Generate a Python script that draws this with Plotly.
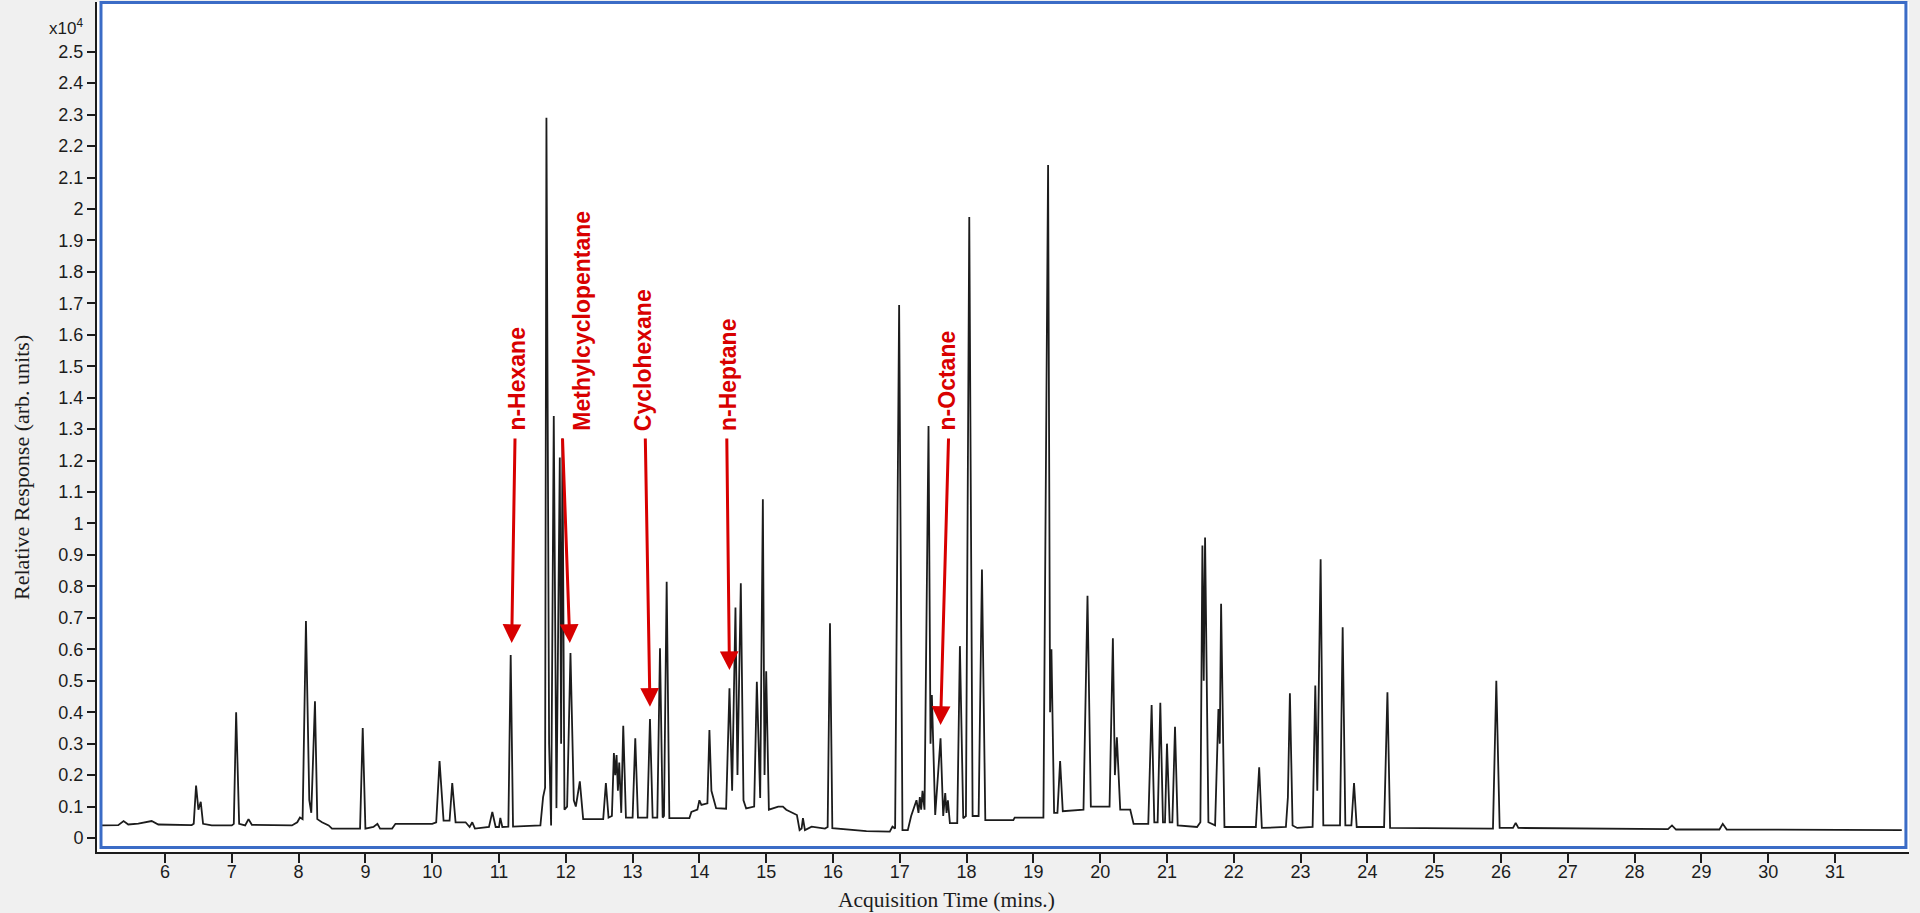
import plotly.graph_objects as go

# ---- chromatogram vertices (time in min, response in 1e4 units)
time_min = [
    5.05, 5.30, 5.38, 5.45, 5.60, 5.80, 5.90, 6.40, 6.43, 6.465, 6.50, 6.535, 6.57, 6.70,
    7.00, 7.03, 7.065, 7.085, 7.11, 7.20, 7.25, 7.30, 7.90, 7.98, 8.02, 8.06, 8.11, 8.16,
    8.19, 8.245, 8.28, 8.35, 8.45, 8.50, 8.92, 8.96, 9.00, 9.12, 9.18, 9.22, 9.40, 9.45,
    10.00, 10.06, 10.11, 10.17, 10.26, 10.30, 10.35, 10.50, 10.56, 10.60, 10.64, 10.85,
    10.90, 10.95, 11.00, 11.02, 11.05, 11.14, 11.175, 11.21, 11.62, 11.66, 11.69, 11.71,
    11.75, 11.78, 11.82, 11.86, 11.91, 11.93, 11.95, 11.98, 12.02, 12.07, 12.12, 12.15,
    12.21, 12.26, 12.56, 12.60, 12.64, 12.69, 12.72, 12.74, 12.76, 12.78, 12.80, 12.83,
    12.86, 12.90, 13.00, 13.04, 13.08, 13.22, 13.26, 13.30, 13.37, 13.41, 13.45, 13.47,
    13.51, 13.55, 13.85, 13.88, 13.97, 14.00, 14.03, 14.12, 14.15, 14.18, 14.25, 14.40,
    14.45, 14.49, 14.54, 14.57, 14.62, 14.66, 14.70, 14.82, 14.86, 14.91, 14.95, 14.975,
    15.00, 15.04, 15.18, 15.25, 15.30, 15.46, 15.50, 15.53, 15.55, 15.58, 15.62, 15.68,
    15.88, 15.92, 15.955, 15.99, 16.50, 16.85, 16.89, 16.93, 16.99, 17.04, 17.12, 17.17,
    17.25, 17.28, 17.30, 17.32, 17.34, 17.37, 17.43, 17.46, 17.48, 17.53, 17.61, 17.65,
    17.68, 17.70, 17.72, 17.75, 17.86, 17.90, 17.95, 17.99, 18.04, 18.09, 18.18, 18.23,
    18.28, 18.70, 18.72, 19.15, 19.22, 19.25, 19.27, 19.31, 19.36, 19.40, 19.44, 19.75,
    19.81, 19.86, 20.14, 20.19, 20.22, 20.25, 20.30, 20.45, 20.50, 20.72, 20.77, 20.81,
    20.86, 20.90, 20.94, 20.97, 21.00, 21.04, 21.08, 21.12, 21.16, 21.45, 21.50, 21.53,
    21.55, 21.57, 21.62, 21.72, 21.77, 21.79, 21.81, 21.86, 22.33, 22.38, 22.42, 22.78,
    22.81, 22.84, 22.88, 22.95, 23.18, 23.22, 23.25, 23.30, 23.34, 23.59, 23.63, 23.67,
    23.76, 23.80, 23.84, 24.25, 24.30, 24.34, 25.88, 25.93, 25.98, 26.18, 26.22, 26.26,
    28.50, 28.56, 28.62, 29.27, 29.32, 29.38, 32.00,
]
response = [
    0.040, 0.041, 0.054, 0.043, 0.046, 0.054, 0.043, 0.041, 0.045, 0.167, 0.090, 0.115, 0.045, 0.040,
    0.040, 0.045, 0.400, 0.215, 0.045, 0.040, 0.060, 0.042, 0.040, 0.050, 0.065, 0.060, 0.690, 0.120,
    0.080, 0.435, 0.060, 0.050, 0.040, 0.030, 0.030, 0.350, 0.030, 0.035, 0.045, 0.030, 0.030, 0.045,
    0.045, 0.050, 0.245, 0.055, 0.055, 0.175, 0.050, 0.050, 0.035, 0.050, 0.030, 0.035,
    0.083, 0.035, 0.035, 0.064, 0.035, 0.036, 0.582, 0.036, 0.040, 0.130, 0.160, 2.290,
    0.300, 0.040, 1.342, 0.095, 1.210, 0.300, 1.270, 0.090, 0.100, 0.588, 0.120, 0.100,
    0.180, 0.060, 0.060, 0.175, 0.065, 0.070, 0.270, 0.200, 0.264, 0.150, 0.240, 0.080,
    0.357, 0.065, 0.065, 0.317, 0.065, 0.065, 0.378, 0.065, 0.065, 0.603, 0.065, 0.070,
    0.815, 0.063, 0.063, 0.083, 0.090, 0.120, 0.105, 0.110, 0.343, 0.150, 0.095, 0.093,
    0.476, 0.150, 0.733, 0.200, 0.810, 0.120, 0.094, 0.100, 0.497, 0.127, 1.077, 0.200,
    0.530, 0.090, 0.100, 0.100, 0.090, 0.073, 0.025, 0.030, 0.063, 0.025, 0.030, 0.036,
    0.030, 0.035, 0.683, 0.031, 0.022, 0.020, 0.036, 0.030, 1.695, 0.025, 0.025, 0.070,
    0.120, 0.080, 0.130, 0.090, 0.150, 0.090, 1.310, 0.300, 0.455, 0.073, 0.317, 0.070,
    0.143, 0.080, 0.120, 0.047, 0.047, 0.610, 0.063, 0.070, 1.974, 0.070, 0.070, 0.854,
    0.057, 0.057, 0.065, 0.065, 2.140, 0.400, 0.600, 0.080, 0.080, 0.245, 0.085, 0.090,
    0.770, 0.100, 0.100, 0.635, 0.200, 0.320, 0.090, 0.090, 0.045, 0.045, 0.423, 0.050,
    0.050, 0.430, 0.050, 0.050, 0.300, 0.050, 0.050, 0.354, 0.040, 0.035, 0.050, 0.930,
    0.500, 0.955, 0.050, 0.040, 0.410, 0.300, 0.745, 0.035, 0.035, 0.225, 0.032, 0.035,
    0.130, 0.460, 0.040, 0.032, 0.035, 0.485, 0.150, 0.886, 0.040, 0.040, 0.670, 0.040,
    0.040, 0.175, 0.035, 0.035, 0.463, 0.032, 0.030, 0.500, 0.032, 0.032, 0.048, 0.032,
    0.028, 0.040, 0.027, 0.027, 0.045, 0.027, 0.025,
]

# ---- labelled compounds: name, label centre time, arrow tail time, arrow head time, head response
compound_names = ["n-Hexane", "Methylcyclopentane", "Cyclohexane", "n-Heptane", "n-Octane"]
label_time = [11.265, 12.24, 13.16, 14.43, 17.70]
arrow_tail_time = [11.24, 11.95, 13.19, 14.41, 17.73]
arrow_head_time = [11.19, 12.06, 13.26, 14.45, 17.61]
arrow_head_resp = [0.62, 0.62, 0.417, 0.534, 0.359]
label_base_resp = 1.288
arrow_tail_resp = 1.275

x_ticks = list(range(6, 32))
y_ticks = [round(i * 0.1, 1) for i in range(0, 26)]
y_ticktext = [("%g" % v) for v in y_ticks]

RED = "#d80000"
INK = "#1c1c1c"

fig = go.Figure()
fig.add_trace(go.Scatter(x=time_min, y=response, mode="lines",
                         line=dict(color=INK, width=1.8), hoverinfo="skip",
                         showlegend=False))

for name, lt, tt, ht, hr in zip(compound_names, label_time, arrow_tail_time,
                                arrow_head_time, arrow_head_resp):
    fig.add_annotation(x=ht, y=hr, ax=tt, ay=arrow_tail_resp, axref="x", ayref="y",
                       xref="x", yref="y", text="", showarrow=True,
                       arrowhead=2, arrowsize=1.25, arrowwidth=3, arrowcolor=RED,
                       standoff=0, startstandoff=0)
    fig.add_annotation(x=lt, y=label_base_resp, xref="x", yref="y", text="<b>%s</b>" % name,
                       showarrow=False, textangle=-90, xanchor="center", yanchor="bottom",
                       font=dict(family="Liberation Sans, Arial", size=23, color=RED))

# scale factor label
fig.add_annotation(x=-0.0066, y=0.9706, xref="paper", yref="paper", text="x10<sup>4</sup>",
                   showarrow=False, xanchor="right", yanchor="middle",
                   font=dict(family="Liberation Sans, Arial", size=17, color=INK))
# axis titles
fig.add_annotation(x=-0.0420, y=0.4529, xref="paper", yref="paper",
                   text="Relative Response (arb. units)", showarrow=False, textangle=-90,
                   xanchor="center", yanchor="middle",
                   font=dict(family="Liberation Serif, Times New Roman", size=22, color=INK))
fig.add_annotation(x=0.469, y=-0.0565, xref="paper", yref="paper",
                   text="Acquisition Time (mins.)", showarrow=False,
                   xanchor="center", yanchor="middle",
                   font=dict(family="Liberation Serif, Times New Roman", size=21.5, color=INK))

# blue plot frame
fig.add_shape(type="rect", xref="paper", yref="paper", x0=0.0022, x1=0.9983, y0=0.0053, y1=0.9995,
              line=dict(color="#3b6cc6", width=3), layer="above")

fig.update_xaxes(range=[4.982, 32.108], tickvals=x_ticks, ticks="outside", ticklen=9,
                 tickwidth=2, tickcolor=INK, showline=True, linecolor=INK, linewidth=2,
                 showgrid=False, zeroline=False, ticklabelstandoff=-7,
                 tickfont=dict(family="Liberation Sans, Arial", size=18, color=INK))
fig.update_yaxes(range=[-0.0445, 2.658], tickvals=y_ticks, ticktext=y_ticktext,
                 ticks="outside", ticklen=8, tickwidth=2, tickcolor=INK, showline=True,
                 linecolor=INK, linewidth=2, showgrid=False, zeroline=False,
                 tickfont=dict(family="Liberation Sans, Arial", size=18, color=INK))

fig.update_layout(width=1920, height=913, margin=dict(l=97, r=11, t=2, b=61),
                  paper_bgcolor="#f0f0f0", plot_bgcolor="#ffffff")

fig.write_html("out.html", config={"displayModeBar": False},
               post_script="document.body.style.margin='0px';document.body.style.overflow='hidden';")
